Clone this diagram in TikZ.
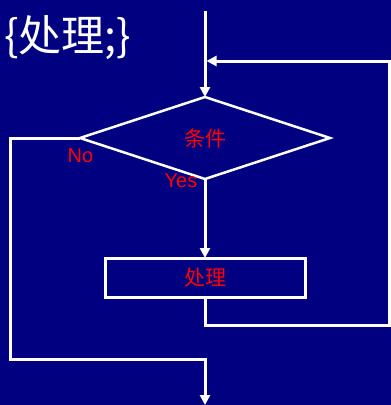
\documentclass[tikz,border=0pt]{standalone}
\usepackage{fontspec}
\setmainfont{Liberation Sans}
\newfontfamily\cjk{Noto Sans CJK SC}
\usetikzlibrary{shapes.geometric,arrows.meta,calc}
\definecolor{navy}{HTML}{000080}
\tikzset{
  line/.style={white,line width=3pt},
  arr/.style={line,-{Triangle[length=10pt,width=10pt]}},
  lbl/.style={text=red,font=\fontsize{20}{22}\selectfont,inner sep=0pt},
  cjklbl/.style={text=red,font=\cjk\fontsize{21}{23}\selectfont,inner sep=0pt},
}
\begin{document}
\begin{tikzpicture}[x=1pt,y=-1pt]
\fill[navy] (0,0) rectangle (391,405);
\useasboundingbox (0,0) rectangle (391,405);
\node[text=white,font=\cjk\fontsize{43}{45}\selectfont,anchor=west,inner sep=0pt] (title) at (4,38) {\{处理;\}};
\node[diamond,draw=white,line width=2.5pt,minimum width=250pt,minimum height=82pt,inner sep=0pt,outer sep=0pt] (cond) at (205,138) {};
\node[cjklbl] (condt) at (cond.center) {条件};
\node[draw=white,line width=3pt,minimum width=200pt,minimum height=39pt,inner sep=0pt,outer sep=0pt] (proc) at (205,277.5) {};
\node[cjklbl] (proct) at (proc.center) {处理};
\node[lbl] (no) at (80.5,155.5) {No};
\node[lbl] (yes) at (181,180.5) {Yes};
\coordinate (start) at (205,11);
\coordinate (merge) at (206.5,61);
\coordinate (rb) at (389.5,325);
\coordinate (rt) at (389.5,61);
\coordinate (lb) at (10,359);
\coordinate (end) at (205,405);
\draw[arr] (start) -- (cond.north);
\draw[arr] (cond.south) -- (proc.north);
\draw[arr] (proc.south) |- (rb) -- (rt) -- (merge);
\draw[arr] (cond.west) -| (lb) -| (end);
\end{tikzpicture}
\end{document}
